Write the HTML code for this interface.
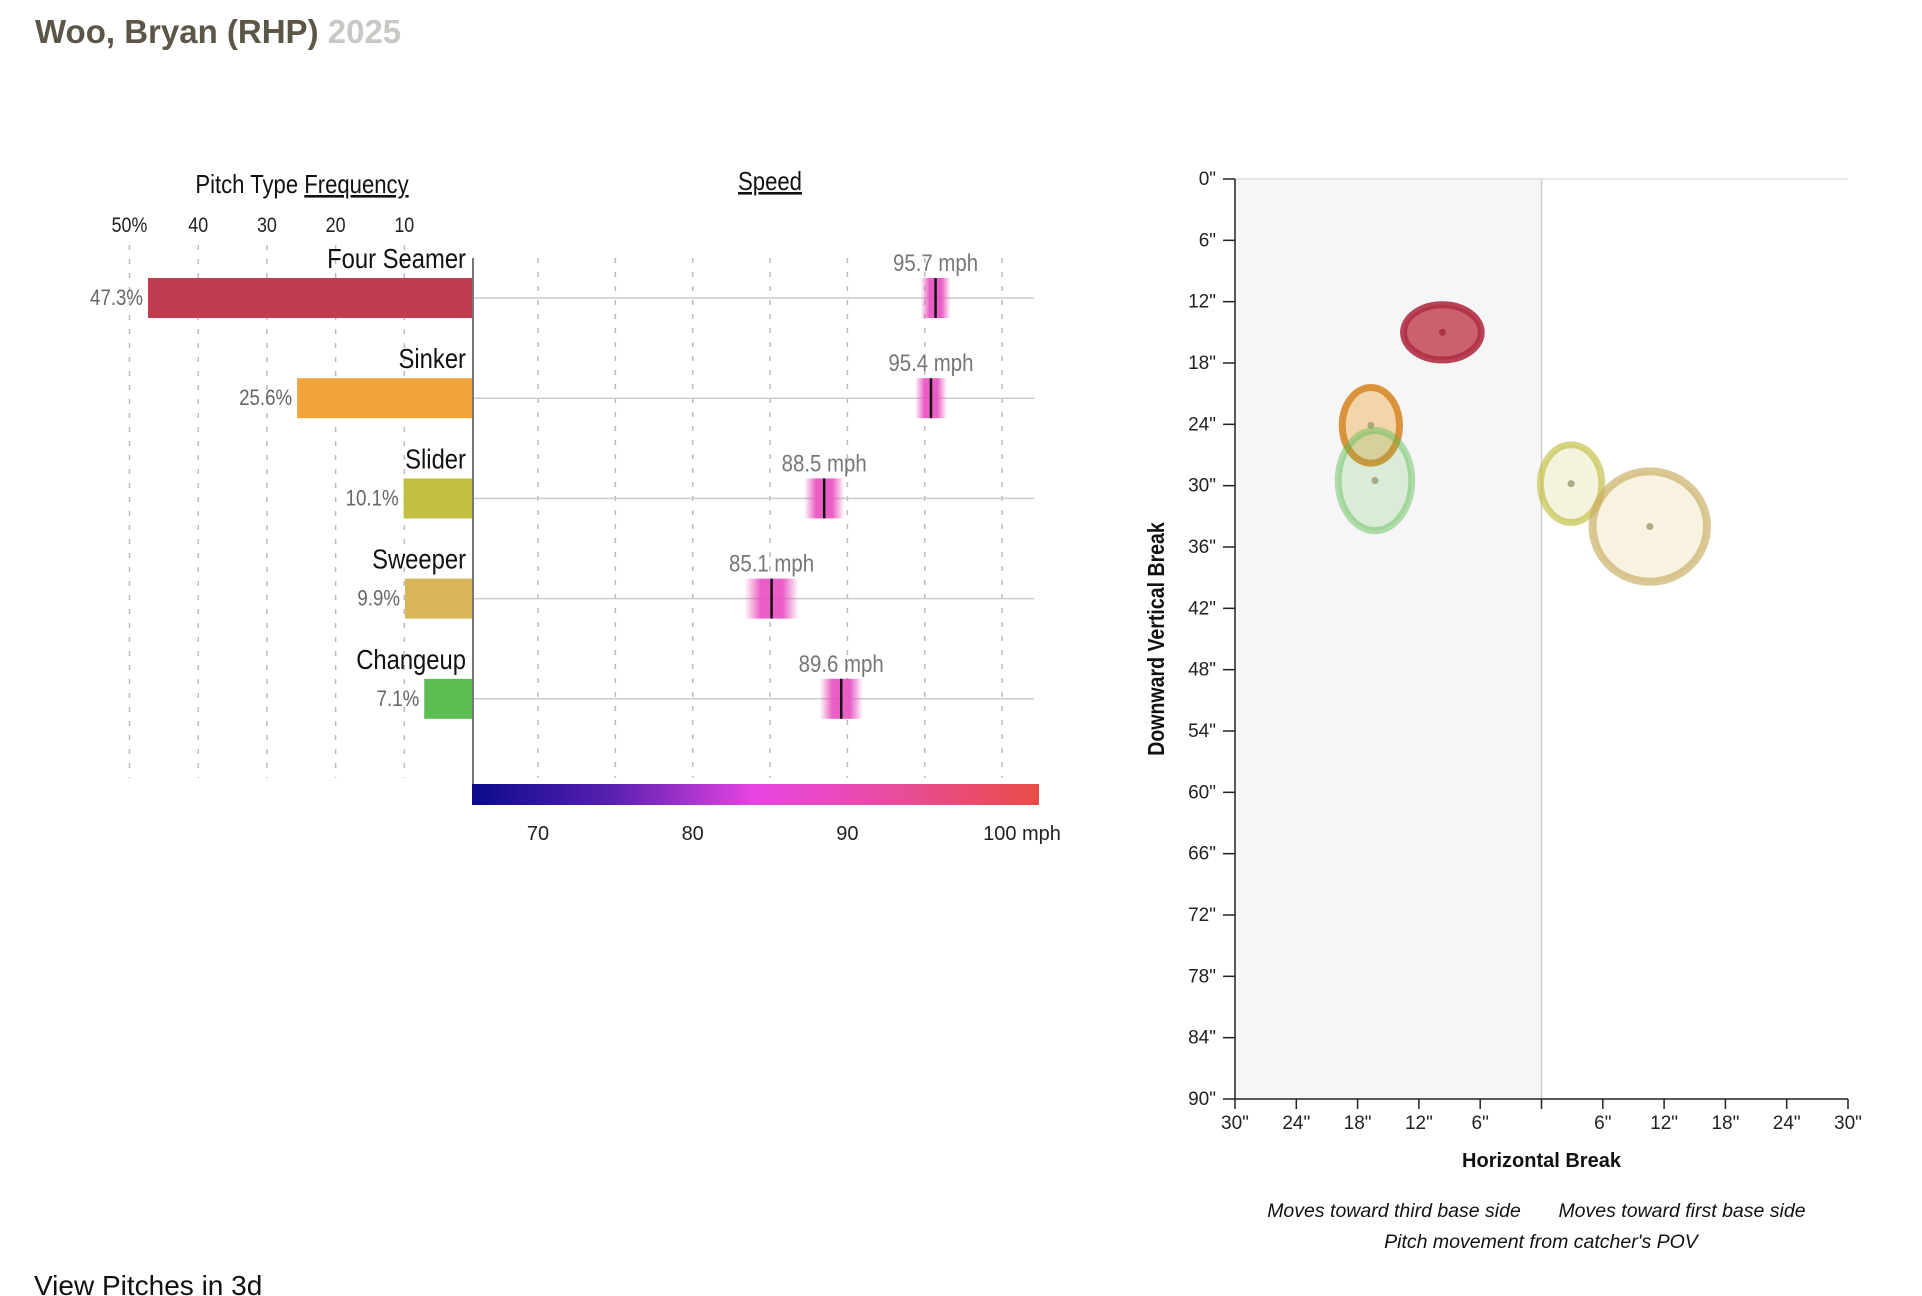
<!DOCTYPE html>
<html><head><meta charset="utf-8">
<style>
html,body{margin:0;padding:0;background:#fff;width:1922px;height:1296px;overflow:hidden;}
body{position:relative;font-family:"Liberation Sans",sans-serif;}
#title{position:absolute;left:35px;top:13px;font-size:33px;font-weight:bold;color:#5c5646;white-space:nowrap;}
#title span{color:#c8c8c4;}
#view3d{position:absolute;left:34px;top:1270px;font-size:28px;color:#111;white-space:nowrap;}
svg{position:absolute;left:0;top:0;}
.cond{font-family:"Liberation Sans Narrow","Liberation Sans",sans-serif;}
</style></head>
<body>
<div id="title">Woo, Bryan (RHP) <span>2025</span></div>
<div id="view3d">View Pitches in 3d</div>
<svg id="chart" width="1922" height="1296" xmlns="http://www.w3.org/2000/svg">
<defs>
<linearGradient id="speedGrad" x1="0" x2="1" y1="0" y2="0">
<stop offset="0" stop-color="#0a0a8c"/>
<stop offset="0.25" stop-color="#5a20b0"/>
<stop offset="0.5" stop-color="#e845e4"/>
<stop offset="0.75" stop-color="#e84c9c"/>
<stop offset="1" stop-color="#e84c44"/>
</linearGradient>
</defs>
</svg>
<script>
// ---- data ----
const pitchTypes = ["Four Seamer","Sinker","Slider","Sweeper","Changeup"];
const pitchColors = ["#c03c4e","#f0a43a","#c2bf42","#d8b658","#5cbd53"];
const usagePct = [47.3,25.6,10.1,9.9,7.1];
const avgSpeed = [95.7,95.4,88.5,85.1,89.6];
const speedSpread = [0.97,1.03,1.3,1.75,1.4];
const freqTicks = [50,40,30,20,10];
const speedTicks = [70,80,90,100];
const speedGrid = [70,75,80,85,90,95,100];
const hBreak = [-9.7,-16.7,2.9,10.6,-16.3];
const vBreak = [15.0,24.1,29.8,34.0,29.5];
const hSpread = [3.8,2.8,3.0,5.6,3.6];
const vSpread = [2.7,3.7,3.8,5.4,4.9];
const yTicks = [0,6,12,18,24,30,36,42,48,54,60,66,72,78,84,90];
const xTicks = [-30,-24,-18,-12,-6,0,6,12,18,24,30];

const NS="http://www.w3.org/2000/svg";
const svg=document.getElementById('chart');
function el(tag,attrs,parent,text){const e=document.createElementNS(NS,tag);for(const k in attrs)e.setAttribute(k,attrs[k]);if(text!==undefined)e.textContent=text;(parent||svg).appendChild(e);return e;}

const freqZero=473, freqPer=6.87;
const fx=p=>freqZero-p*freqPer;
const sx=s=>538+(s-70)*15.47;
const rowY=i=>298+i*100.2;
const barH=40;

const left=el('g',{});



let t=el('text',{x:302,y:193,'text-anchor':'middle','font-size':26,fill:'#111',class:'cond'},left);


el('tspan',{},t,'Pitch Type ');
el('tspan',{'text-decoration':'underline'},t,'Frequency');
t=el('text',{x:770,y:190,'text-anchor':'middle','font-size':26,fill:'#111','text-decoration':'underline',class:'cond'},left,'Speed');



freqTicks.forEach((v,i)=>{
  const x=fx(v);
  const g=el('line',{x1:x,x2:x,y1:245,y2:778,stroke:'#bbb','stroke-dasharray':'5,9','stroke-width':1.5},left);
  
  
  const l=el('text',{x:x,y:232,'text-anchor':'middle','font-size':21,fill:'#222',class:'cond'},left,i===0?v+'%':String(v));
  
  
});
speedGrid.forEach(v=>{
  const x=sx(v);
  const g=el('line',{x1:x,x2:x,y1:258,y2:778,stroke:'#bbb','stroke-dasharray':'5,9','stroke-width':1.5},left);
  
  
});
pitchTypes.forEach((name,i)=>{
  const cy=rowY(i);
  const hl=el('line',{x1:freqZero,x2:1034,y1:cy,y2:cy,stroke:'#ccc','stroke-width':1.5},left);
  
  
  const b=el('rect',{x:fx(usagePct[i]),y:cy-barH/2,width:freqZero-fx(usagePct[i]),height:barH,fill:pitchColors[i]},left);
  
  
  const pl=el('text',{x:fx(usagePct[i])-5,y:cy+7,'text-anchor':'end','font-size':22,fill:'#666',class:'cond'},left,usagePct[i].toFixed(1)+'%');
  
  
  const nl=el('text',{x:466,y:cy-30,'text-anchor':'end','font-size':28,fill:'#111',class:'cond'},left,name);
  
  
  const gid='mk'+i;
  const lg=el('linearGradient',{id:gid,x1:0,x2:1,y1:0,y2:0},svg.querySelector('defs'));
  el('stop',{offset:0,'stop-color':'#e84cb8','stop-opacity':0},lg);
  el('stop',{offset:0.3,'stop-color':'#e84cc0','stop-opacity':0.9},lg);
  el('stop',{offset:0.7,'stop-color':'#e84cc0','stop-opacity':0.9},lg);
  el('stop',{offset:1,'stop-color':'#e84cb8','stop-opacity':0},lg);
  const x0=sx(avgSpeed[i]-speedSpread[i]), x1=sx(avgSpeed[i]+speedSpread[i]);
  const m=el('rect',{x:x0,y:cy-barH/2,width:x1-x0,height:barH,fill:'url(#'+gid+')'},left);
  
  
  const ml=el('line',{x1:sx(avgSpeed[i]),x2:sx(avgSpeed[i]),y1:cy-barH/2,y2:cy+barH/2,stroke:'#111','stroke-width':2.5},left);
  
  
  const sl=el('text',{x:sx(avgSpeed[i]),y:cy-27,'text-anchor':'middle','font-size':24,fill:'#777',class:'cond'},left,avgSpeed[i].toFixed(1)+' mph');
  
  
});
const ax=el('line',{x1:freqZero,x2:freqZero,y1:258,y2:798,stroke:'#777','stroke-width':2},left);


const cb=el('rect',{x:472,y:784,width:567,height:21,fill:'url(#speedGrad)'},left);


speedTicks.forEach((v,i)=>{
  const last=i===speedTicks.length-1;
  const l=el('text',{x:last?sx(v)-19:sx(v),y:840,'text-anchor':last?'start':'middle','font-size':20,fill:'#222'},left,last?v+' mph':String(v));
  
  
});

// ---- movement chart ----
const PL=1235, PR=1848, PT=179, PB=1099;
const mx=h=>PL+(h+30)*(PR-PL)/60;
const my=v=>PT+v*(PB-PT)/90;
const mv=el('g',{});


const sh=el('rect',{x:PL,y:PT,width:mx(0)-PL,height:PB-PT,fill:'#f6f6f6'},mv);


const tl=el('line',{x1:PL,x2:PR,y1:PT,y2:PT,stroke:'#ddd','stroke-width':1.5},mv);


const cl=el('line',{x1:mx(0),x2:mx(0),y1:PT,y2:PB,stroke:'#ccc','stroke-width':1.5},mv);


const ya=el('line',{x1:PL,x2:PL,y1:PT,y2:PB,stroke:'#222','stroke-width':1.5},mv);


const xa=el('line',{x1:PL,x2:PR,y1:PB,y2:PB,stroke:'#222','stroke-width':1.5},mv);


yTicks.forEach(v=>{
  el('line',{x1:PL-12,x2:PL,y1:my(v),y2:my(v),stroke:'#222','stroke-width':1.5},mv);
  const l=el('text',{x:PL-19,y:my(v)+6,'text-anchor':'end','font-size':19,fill:'#222'},mv,v+'"');
  
  
});
xTicks.forEach(v=>{
  el('line',{x1:mx(v),x2:mx(v),y1:PB,y2:PB+10,stroke:'#222','stroke-width':1.5},mv);
  if(v!==0){
    const l=el('text',{x:mx(v),y:PB+30,'text-anchor':'middle','font-size':19,fill:'#222'},mv,Math.abs(v)+'"');
    
    
  }
});
pitchTypes.forEach((name,i)=>{
  const e=el('ellipse',{cx:mx(hBreak[i]),cy:my(vBreak[i]),rx:hSpread[i]*(PR-PL)/60,ry:vSpread[i]*(PB-PT)/90,fill:pitchColors[i],'fill-opacity':0.18,stroke:pitchColors[i],'stroke-opacity':0.65,'stroke-width':7},mv);
  if(i===0){e.setAttribute('fill-opacity',0.8);e.setAttribute('stroke-opacity',0.9);e.setAttribute('stroke','#b03045');}
  if(i===1){e.setAttribute('fill-opacity',0.4);e.setAttribute('stroke','#d88a2a');e.setAttribute('stroke-opacity',0.9);}
  if(i===3){e.setAttribute('stroke','#c8aa60');e.setAttribute('stroke-width',8);}
  if(i===4){e.setAttribute('stroke-opacity',0.45);}
  
  
  const d=el('circle',{cx:mx(hBreak[i]),cy:my(vBreak[i]),r:3.5,fill:i===0?'#a02838':'#9a9a70','fill-opacity':0.8},mv);
  
  
});
let at=el('text',{x:mx(0),y:1167,'text-anchor':'middle','font-size':20,'font-weight':'bold',fill:'#111'},mv,'Horizontal Break');


at=el('text',{x:0,y:0,'text-anchor':'middle','font-size':23,'font-weight':'bold',fill:'#111',class:'cond',transform:'translate(1164,639) rotate(-90)'},mv,'Downward Vertical Break');


at=el('text',{x:1394,y:1217,'text-anchor':'middle','font-size':19.5,'font-style':'italic',fill:'#111'},mv,'Moves toward third base side');


at=el('text',{x:1682,y:1217,'text-anchor':'middle','font-size':19.5,'font-style':'italic',fill:'#111'},mv,'Moves toward first base side');


at=el('text',{x:1541,y:1248,'text-anchor':'middle','font-size':19.5,'font-style':'italic',fill:'#111'},mv,"Pitch movement from catcher's POV");



document.querySelectorAll('text.cond').forEach(tx=>{
  const w=tx.getComputedTextLength();
  if(w>0){tx.setAttribute('textLength',(w*0.85).toFixed(1));tx.setAttribute('lengthAdjust','spacingAndGlyphs');}
});
</script>
</body></html>
